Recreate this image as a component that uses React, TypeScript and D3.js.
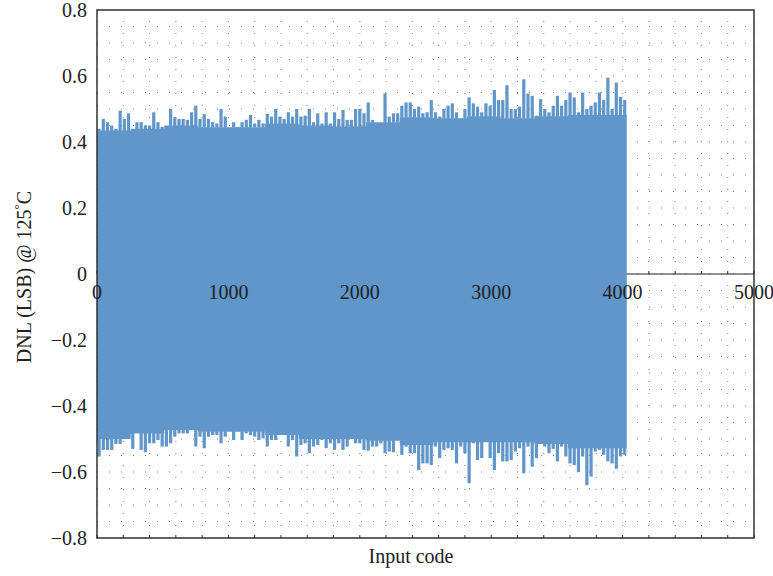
import * as d3 from 'd3';

// DNL.
// Peaks: highest / lowest excursion in each 32-code bin.
const BIN = 32;

const upperPeak = [
  0.44, 0.47, 0.46, 0.45, 0.44, 0.495, 0.47, 0.487, 0.44, 0.46,
  0.46, 0.45, 0.45, 0.49, 0.46, 0.446, 0.45, 0.5, 0.475, 0.47,
  0.47, 0.467, 0.49, 0.51, 0.47, 0.485, 0.47, 0.46, 0.456, 0.5,
  0.477, 0.44, 0.46, 0.446, 0.46, 0.467, 0.482, 0.456, 0.467, 0.456,
  0.485, 0.477, 0.5, 0.477, 0.47, 0.49, 0.477, 0.5, 0.477, 0.48,
  0.5, 0.46, 0.487, 0.456, 0.49, 0.456, 0.49, 0.47, 0.497, 0.467,
  0.467, 0.5, 0.5, 0.487, 0.52, 0.467, 0.46, 0.46, 0.547, 0.477,
  0.487, 0.487, 0.51, 0.52, 0.52, 0.5, 0.507, 0.487, 0.49, 0.527,
  0.49, 0.477, 0.5, 0.51, 0.517, 0.49, 0.467, 0.5, 0.535, 0.517,
  0.507, 0.49, 0.517, 0.51, 0.558, 0.527, 0.527, 0.572, 0.5, 0.5,
  0.507, 0.59, 0.547, 0.54, 0.48, 0.53, 0.5, 0.49, 0.51, 0.54,
  0.51, 0.527, 0.55, 0.535, 0.49, 0.55, 0.5, 0.51, 0.52, 0.55,
  0.527, 0.595, 0.5, 0.58, 0.537, 0.527,
];

const lowerPeak = [
  -0.553, -0.533, -0.533, -0.533, -0.515, -0.515, -0.493, -0.493, -0.53, -0.473,
  -0.533, -0.54, -0.513, -0.513, -0.503, -0.523, -0.523, -0.513, -0.493, -0.483,
  -0.483, -0.483, -0.473, -0.523, -0.493, -0.528, -0.493, -0.488, -0.488, -0.513,
  -0.493, -0.473, -0.503, -0.473, -0.503, -0.483, -0.488, -0.493, -0.503, -0.498,
  -0.523, -0.503, -0.503, -0.488, -0.483, -0.523, -0.503, -0.553, -0.518, -0.513,
  -0.543, -0.523, -0.518, -0.503, -0.528, -0.513, -0.533, -0.513, -0.533, -0.523,
  -0.493, -0.513, -0.513, -0.533, -0.535, -0.523, -0.523, -0.513, -0.543, -0.538,
  -0.54, -0.503, -0.548, -0.523, -0.543, -0.543, -0.594, -0.574, -0.574, -0.579,
  -0.523, -0.558, -0.533, -0.528, -0.533, -0.574, -0.523, -0.543, -0.634, -0.513,
  -0.564, -0.558, -0.503, -0.558, -0.594, -0.543, -0.568, -0.568, -0.564, -0.538,
  -0.528, -0.604, -0.523, -0.584, -0.558, -0.503, -0.523, -0.543, -0.53, -0.568,
  -0.523, -0.553, -0.574, -0.579, -0.6, -0.553, -0.64, -0.614, -0.538, -0.533,
  -0.548, -0.568, -0.574, -0.59, -0.553, -0.548,
];

// Dense core of the trace: typical top / bottom per 256-code block
const CORE_BIN = 256;
const upperCore = [
  0.435, 0.44, 0.45, 0.445, 0.445, 0.455, 0.45, 0.447,
  0.46, 0.475, 0.472, 0.478, 0.472, 0.478, 0.482, 0.482,
];
const lowerCore = [
  -0.5, -0.483, -0.473, -0.478, -0.478, -0.488, -0.5, -0.5,
  -0.505, -0.518, -0.51, -0.51, -0.51, -0.515, -0.528, -0.528,
];

const xTickValues = [0, 1000, 2000, 3000, 4000, 5000];
const yTickValues = [0.8, 0.6, 0.4, 0.2, 0, -0.2, -0.4, -0.6, -0.8];

type Block = { code: number; hi: number; lo: number };

export default function App() {
  const width = 773;
  const height = 576;
  const font = '"Liberation Serif", "DejaVu Serif", serif';
  const blue = '#6096c9';

  const x = d3.scaleLinear().domain([0, 5000]).range([97, 754]);
  const y = d3.scaleLinear().domain([-0.8, 0.8]).range([538, 10]);

  const lastCode = upperPeak.length * BIN;

  const core: Block[] = upperCore.map((hi, i) => ({
    code: i * CORE_BIN,
    hi,
    lo: lowerCore[i],
  }));
  core.push({ code: lastCode, hi: upperCore[upperCore.length - 1], lo: lowerCore[lowerCore.length - 1] });

  const corePath = d3
    .area<Block>()
    .x((d) => x(d.code))
    .y0((d) => y(d.lo))
    .y1((d) => y(d.hi))
    .curve(d3.curveStepAfter)(core);

  const coreAt = (code: number, arr: number[]) =>
    arr[Math.min(arr.length - 1, Math.floor(code / CORE_BIN))];

  const spikeW = x(BIN) - x(0) - 1;
  const spikes = upperPeak.map((hi, i) => {
    const code = i * BIN + BIN / 2;
    return {
      cx: x(code),
      hi,
      lo: lowerPeak[i],
      cHi: coreAt(code, upperCore),
      cLo: coreAt(code, lowerCore),
    };
  });

  const gridX = x.ticks(25); // every 200 codes
  const gridY = y.ticks(40); // every 0.04 LSB
  const fmtY = (v: number) => (v === 0 ? '0' : d3.format('.1f')(v));

  const [x0, x1] = x.range();
  const [yb, yt] = y.range();

  return (
    <svg
      width={width}
      height={height}
      style={{ position: 'absolute', left: 0, top: 0, background: '#fff' }}
      fontFamily={font}
    >
      {/* dotted grid */}
      <g stroke='#808080' strokeWidth={1} strokeDasharray='1 11'>
        {gridX.map((v) => (
          <line key={'gx' + v} x1={x(v)} x2={x(v)} y1={yb} y2={yt} />
        ))}
        {gridY.map((v) => (
          <line key={'gy' + v} x1={x0} x2={x1} y1={y(v)} y2={y(v)} />
        ))}
      </g>

      {/* x axis through the origin */}
      <line x1={x0} x2={x1} y1={y(0)} y2={y(0)} stroke='#222' strokeWidth={1.2} />
      {gridX.map((v) => (
        <line key={'t0' + v} x1={x(v)} x2={x(v)} y1={y(0)} y2={y(0) - 3} stroke='#222' />
      ))}

      {/* DNL data: dense core plus per-bin spikes */}
      <path d={corePath ?? 'M0 0'} fill={blue} stroke='none' />
      <g fill={blue}>
        {spikes.map((s, i) => (
          <g key={'s' + i}>
            {s.hi > s.cHi && (
              <rect x={s.cx - spikeW / 2} width={spikeW} y={y(s.hi)} height={y(s.cHi) - y(s.hi) + 0.5} />
            )}
            {s.lo < s.cLo && (
              <rect x={s.cx - spikeW / 2} width={spikeW} y={y(s.cLo) - 0.5} height={y(s.lo) - y(s.cLo) + 0.5} />
            )}
          </g>
        ))}
      </g>

      {/* box */}
      <rect
        x={x0}
        y={yt}
        width={x1 - x0}
        height={yb - yt}
        fill='none'
        stroke='#333'
        strokeWidth={1.5}
      />
      {gridX.map((v) => (
        <line key={'tb' + v} x1={x(v)} x2={x(v)} y1={yb} y2={yb - 3} stroke='#333' />
      ))}

      {/* tick labels */}
      <g fontSize={20} fill='#222'>
        {yTickValues.map((v) => (
          <text key={'yl' + v} x={87} y={y(v)} dy='0.33em' textAnchor='end'>
            {fmtY(v)}
          </text>
        ))}
        {xTickValues.map((v) => (
          <text key={'xl' + v} x={x(v)} y={y(0) + 25} textAnchor='middle'>
            {v}
          </text>
        ))}
      </g>

      {/* axis titles */}
      <text x={411} y={563} fontSize={20} textAnchor='middle' fill='#222'>
        Input code
      </text>
      <text
        transform='translate(31,277) rotate(-90)'
        fontSize={20}
        textAnchor='middle'
        fill='#222'
      >
        DNL (LSB) @ 125
        <tspan fontSize={13} dy={-8}>
          °
        </tspan>
        <tspan dy={8}>C</tspan>
      </text>
    </svg>
  );
}
